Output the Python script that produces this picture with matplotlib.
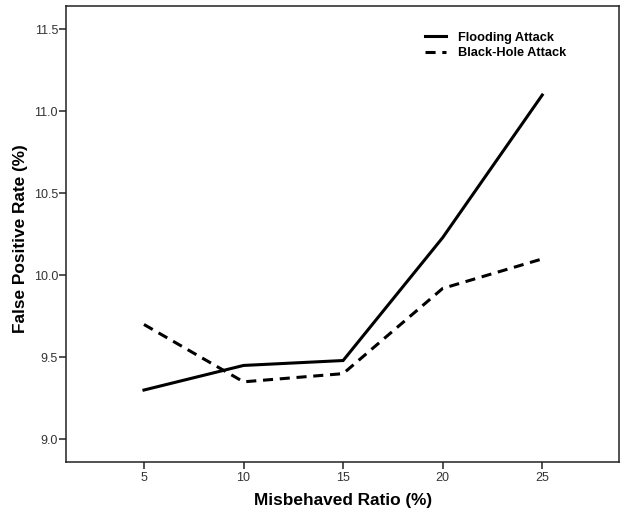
import matplotlib
matplotlib.use("Agg")
import matplotlib.pyplot as plt

plt.rcParams['font.family'] = ['Liberation Sans', 'DejaVu Sans']

ratio = [5, 10, 15, 20, 25]
flooding = [9.30, 9.45, 9.48, 10.23, 11.10]
blackhole = [9.70, 9.35, 9.40, 9.92, 10.10]
yticks = [9.0, 9.5, 10.0, 10.5, 11.0, 11.5]

fig = plt.figure(figsize=(6.22, 5.14), dpi=100)
ax = fig.add_axes([0.1066, 0.1012, 0.8891, 0.8871])

ax.plot(ratio, flooding, color='black', lw=2.2, solid_joinstyle='miter',
        label='Flooding Attack')
ax.plot(ratio, blackhole, color='black', lw=2.2, linestyle=(0, (3.3, 2.2)),
        dash_capstyle='butt', label='Black-Hole Attack')

ax.set_xlim(1.1, 28.87)
ax.set_ylim(8.861, 11.643)
ax.set_xticks(ratio)
ax.set_yticks(yticks)
ax.set_yticklabels(['%.1f' % v for v in yticks])

for s in ax.spines.values():
    s.set_linewidth(1.1)
    s.set_color('#222222')
ax.tick_params(direction='out', length=5, width=1.1, color='#222222',
               labelsize=9, labelcolor='#333333')
ax.tick_params(axis='y', pad=1)
ax.tick_params(axis='x', pad=2)

ax.set_xlabel('Misbehaved Ratio (%)', fontsize=12.4, fontweight='bold')
ax.set_ylabel('False Positive Rate (%)', fontsize=12.4, fontweight='bold')
ax.xaxis.set_label_coords(0.5, -0.068)
ax.yaxis.set_label_coords(-0.07, 0.49)

leg = ax.legend(loc='upper left', bbox_to_anchor=(0.6487, 0.944), frameon=False,
                prop={'size': 9.2, 'weight': 'bold'}, handlelength=1.65,
                handletextpad=0.9, labelspacing=0.28, borderpad=0, borderaxespad=0)

fig.savefig('out.png', dpi=100)
